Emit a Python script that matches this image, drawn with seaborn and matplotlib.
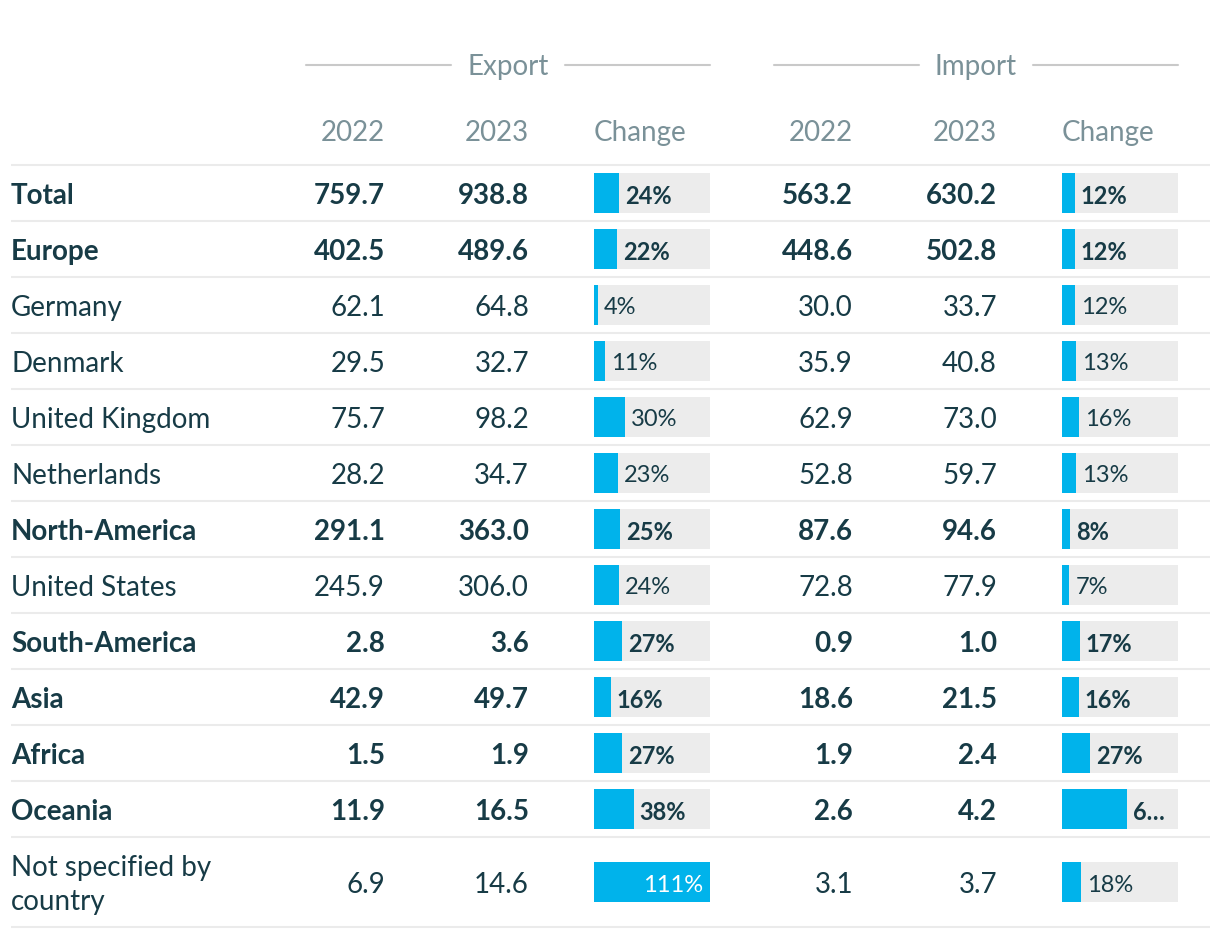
import pandas as pd
import seaborn as sns
import matplotlib.pyplot as plt

regions = ["Total", "Europe", "Germany", "Denmark", "United Kingdom", "Netherlands",
           "North-America", "United States", "South-America", "Asia", "Africa",
           "Oceania", "Not specified by\ncountry"]
bold_rows = ["Total", "Europe", "North-America", "South-America", "Asia", "Africa", "Oceania"]

export_2022 = [759.7, 402.5, 62.1, 29.5, 75.7, 28.2, 291.1, 245.9, 2.8, 42.9, 1.5, 11.9, 6.9]
export_2023 = [938.8, 489.6, 64.8, 32.7, 98.2, 34.7, 363.0, 306.0, 3.6, 49.7, 1.9, 16.5, 14.6]
export_change = [24, 22, 4, 11, 30, 23, 25, 24, 27, 16, 27, 38, 111]

import_2022 = [563.2, 448.6, 30.0, 35.9, 62.9, 52.8, 87.6, 72.8, 0.9, 18.6, 1.9, 2.6, 3.1]
import_2023 = [630.2, 502.8, 33.7, 40.8, 73.0, 59.7, 94.6, 77.9, 1.0, 21.5, 2.4, 4.2, 3.7]
import_change = [12, 12, 12, 13, 16, 13, 8, 7, 17, 16, 27, 62, 18]

sns.set_theme(style="white")
plt.rcParams['font.family'] = ['Lato', 'DejaVu Sans']

DARK = "#173b46"
GREY = "#7a9198"
BLUE = "#00b3eb"
BOX = "#ececec"
W, H = 1220, 938
CHANGE_MAX = 111
DY = 3  # text sits a bit lower than the geometric centre

# row layout in pixels
row_edges = [165]
for r in regions:
    row_edges.append(row_edges[-1] + (90 if "\n" in r else 56))
row_mid = [(a + b) / 2 for a, b in zip(row_edges[:-1], row_edges[1:])]

fig = plt.figure(figsize=(W / 100, H / 100), dpi=100)

# change bars, one axis per Change column
blocks = [
    ("Export", export_2022, export_2023, export_change, 306, 385, 529, 594),
    ("Import", import_2022, import_2023, import_change, 774, 853, 997, 1062),
]
box_w = 116
for name, v22, v23, chg, x0, x22, x23, xbox in blocks:
    bax = fig.add_axes([xbox / W, 0, box_w / W, 1])
    df = pd.DataFrame({"y": row_mid, "change": chg, "full": [CHANGE_MAX] * len(chg)})
    sns.barplot(data=df, x="full", y="y", orient="y", native_scale=True, color=BOX,
                saturation=1, linewidth=0, errorbar=None, width=40 / 56, ax=bax)
    sns.barplot(data=df, x="change", y="y", orient="y", native_scale=True, color=BLUE,
                saturation=1, linewidth=0, errorbar=None, width=40 / 56, ax=bax)
    bax.set_xlim(0, CHANGE_MAX)
    bax.set_ylim(H, 0)
    bax.axis("off")
    bax.patch.set_alpha(0)

ax = fig.add_axes([0, 0, 1, 1])
ax.set_xlim(0, W)
ax.set_ylim(H, 0)
ax.axis("off")
ax.patch.set_alpha(0)

# separators
for y in row_edges:
    ax.plot([11, 1210], [y, y], color="#ebebeb", lw=1.5, solid_capstyle="butt")

for name, v22, v23, chg, x0, x22, x23, xbox in blocks:
    xc = (x0 + xbox + box_w) / 2
    ax.text(xc, 65 + 2, name, ha="center", va="center", color=GREY, fontsize=20)
    ax.plot([x0, xc - 57], [65, 65], color="#c9c9c9", lw=1.5)
    ax.plot([xc + 57, xbox + box_w], [65, 65], color="#c9c9c9", lw=1.5)
    ax.text(x22, 130 + DY, "2022", ha="right", va="center", color=GREY, fontsize=20)
    ax.text(x23, 130 + DY, "2023", ha="right", va="center", color=GREY, fontsize=20)
    ax.text(xbox, 130 + DY, "Change", ha="left", va="center", color=GREY, fontsize=20)

    for i, r in enumerate(regions):
        fw = "bold" if r in bold_rows else "normal"
        y = row_mid[i] + DY
        ax.text(x22, y, f"{v22[i]:.1f}", ha="right", va="center", color=DARK,
                fontsize=20, fontweight=fw)
        ax.text(x23, y, f"{v23[i]:.1f}", ha="right", va="center", color=DARK,
                fontsize=20, fontweight=fw)
        bar_end = xbox + chg[i] / CHANGE_MAX * box_w
        label = f"{chg[i]}%"
        if bar_end > xbox + box_w - 20:
            ax.text(xbox + box_w - 7, y, label, ha="right", va="center", color="white",
                    fontsize=17, fontweight=fw)
        else:
            if xbox + box_w - bar_end < 55:
                label = label[0] + "\u2026"
            ax.text(bar_end + 6, y, label, ha="left", va="center", color=DARK,
                    fontsize=17, fontweight=fw)

for i, r in enumerate(regions):
    fw = "bold" if r in bold_rows else "normal"
    ax.text(11, row_mid[i] + DY, r, ha="left", va="center", color=DARK, fontsize=20,
            fontweight=fw, linespacing=1.4)

fig.savefig("out.png", dpi=100)
